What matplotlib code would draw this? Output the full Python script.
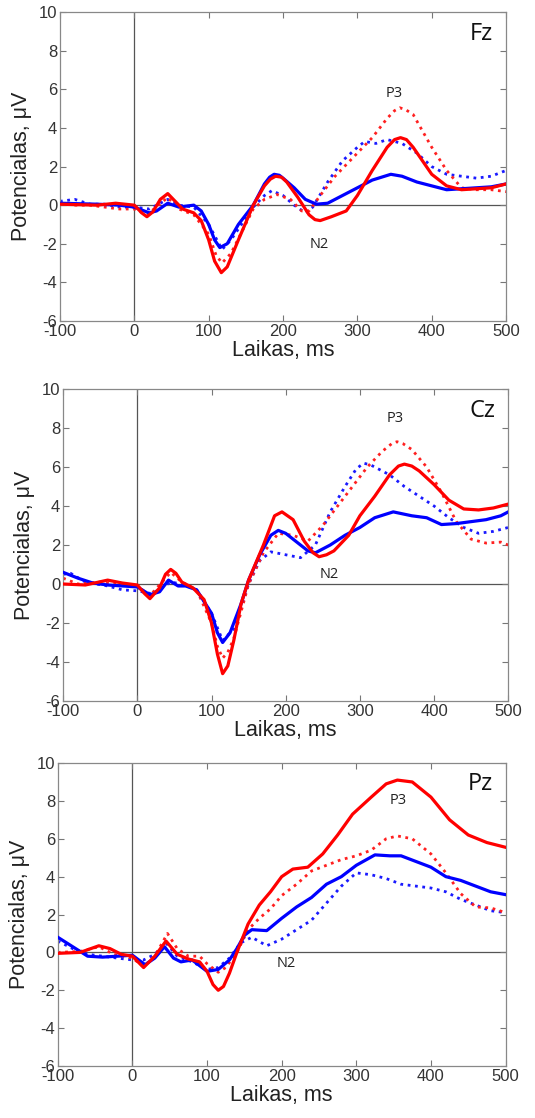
import matplotlib
matplotlib.use("Agg")
import matplotlib.pyplot as plt

plt.rcParams["axes.unicode_minus"] = False

# ---- Fz ----
fz_red_t = [-100, -50, -25, 0, 10, 17, 25, 35, 45, 55, 65, 80, 90, 100, 108, 117, 125, 140, 160, 175, 183, 190, 198, 205, 220, 235, 243, 250, 265, 285, 300, 320, 340, 350, 358, 366, 375, 400, 420, 440, 460, 480, 500]
fz_red_v = [0.05, 0.0, 0.1, 0.0, -0.4, -0.6, -0.35, 0.3, 0.6, 0.2, -0.2, -0.4, -0.8, -1.8, -2.9, -3.5, -3.2, -1.8, 0.0, 1.0, 1.35, 1.5, 1.45, 1.2, 0.4, -0.5, -0.75, -0.8, -0.6, -0.3, 0.5, 1.8, 3.0, 3.4, 3.5, 3.4, 3.0, 1.6, 1.0, 0.8, 0.85, 0.9, 1.1]
fz_reddot_t = [-100, -80, -60, -40, -20, 0, 17, 45, 60, 80, 100, 110, 118, 130, 160, 175, 192, 210, 225, 235, 250, 270, 300, 320, 340, 350, 357, 365, 375, 400, 420, 440, 460, 480, 500]
fz_reddot_v = [0.1, 0.0, 0.0, -0.1, -0.2, -0.2, -0.5, 0.4, -0.2, -0.5, -1.5, -2.6, -3.0, -2.5, -0.2, 0.3, 0.55, 0.3, -0.3, -0.3, 0.5, 1.5, 2.7, 3.5, 4.5, 4.9, 5.05, 4.95, 4.7, 3.0, 1.8, 0.9, 0.8, 0.8, 0.7]
fz_blue_t = [-100, -50, -20, 0, 20, 30, 45, 60, 80, 90, 100, 108, 115, 125, 140, 160, 175, 182, 188, 195, 200, 215, 230, 245, 260, 280, 300, 320, 345, 360, 380, 400, 420, 440, 460, 480, 500]
fz_blue_v = [0.1, 0.05, 0.0, -0.1, -0.4, -0.3, 0.1, -0.1, 0.0, -0.3, -1.0, -1.8, -2.2, -2.0, -1.0, 0.0, 1.1, 1.45, 1.6, 1.55, 1.4, 0.9, 0.3, 0.05, 0.1, 0.5, 0.9, 1.3, 1.6, 1.5, 1.2, 1.0, 0.8, 0.85, 0.9, 0.95, 1.1]
fz_bluedot_t = [-100, -80, -60, -40, -20, 0, 20, 45, 60, 80, 100, 118, 130, 160, 175, 185, 200, 215, 230, 240, 260, 280, 300, 310, 325, 340, 360, 380, 400, 420, 440, 460, 480, 500]
fz_bluedot_v = [0.2, 0.3, 0.05, 0.05, -0.1, -0.1, -0.2, 0.3, 0.0, -0.1, -1.0, -2.3, -1.8, -0.1, 0.5, 0.75, 0.5, 0.0, -0.4, -0.1, 1.2, 2.3, 3.0, 3.3, 3.2, 3.4, 3.2, 2.7, 2.0, 1.6, 1.5, 1.4, 1.5, 1.8]

# ---- Cz ----
cz_red_t = [-100, -70, -40, -20, 0, 10, 17, 30, 38, 45, 52, 60, 75, 90, 100, 108, 115, 122, 130, 140, 150, 170, 185, 195, 210, 225, 237, 245, 255, 265, 285, 300, 320, 340, 352, 360, 370, 380, 400, 420, 440, 460, 480, 500]
cz_red_v = [0.0, -0.05, 0.2, 0.05, -0.05, -0.5, -0.75, -0.2, 0.5, 0.75, 0.55, 0.1, -0.2, -0.8, -2.0, -3.6, -4.6, -4.2, -2.9, -1.0, 0.2, 2.0, 3.5, 3.7, 3.3, 2.2, 1.6, 1.4, 1.5, 1.7, 2.5, 3.5, 4.5, 5.6, 6.05, 6.15, 6.05, 5.8, 5.1, 4.3, 3.85, 3.8, 3.9, 4.1]
cz_reddot_t = [-100, -80, -50, -20, 0, 17, 45, 60, 80, 100, 108, 115, 122, 130, 150, 170, 190, 210, 230, 250, 270, 290, 310, 330, 343, 350, 358, 370, 390, 410, 430, 450, 470, 490, 500]
cz_reddot_v = [0.3, 0.0, 0.1, -0.05, -0.1, -0.6, 0.6, 0.1, -0.3, -2.0, -3.2, -3.8, -3.5, -2.8, 0.0, 1.6, 2.6, 2.5, 2.2, 3.0, 4.0, 5.0, 6.0, 6.8, 7.2, 7.3, 7.2, 6.9, 6.0, 4.7, 3.2, 2.3, 2.1, 2.15, 2.0]
cz_blue_t = [-100, -80, -60, -40, -20, 0, 17, 30, 42, 55, 65, 80, 100, 108, 115, 125, 140, 150, 165, 180, 190, 200, 210, 230, 240, 260, 280, 300, 320, 345, 370, 390, 410, 430, 450, 470, 490, 500]
cz_blue_v = [0.6, 0.3, 0.05, -0.05, -0.1, -0.15, -0.55, -0.4, 0.2, -0.1, -0.1, -0.3, -1.5, -2.5, -3.0, -2.5, -1.0, 0.2, 1.5, 2.5, 2.75, 2.6, 2.3, 1.7, 1.6, 2.0, 2.5, 2.9, 3.4, 3.7, 3.5, 3.4, 3.05, 3.1, 3.2, 3.3, 3.5, 3.7]
cz_bluedot_t = [-100, -90, -70, -40, -20, 0, 20, 45, 60, 80, 100, 115, 130, 150, 165, 180, 200, 220, 240, 260, 280, 295, 305, 315, 320, 340, 360, 380, 400, 420, 440, 460, 480, 500]
cz_bluedot_v = [0.5, 0.55, 0.1, -0.1, -0.3, -0.35, -0.5, 0.1, 0.0, -0.3, -1.5, -2.9, -2.3, 0.0, 1.2, 1.65, 1.5, 1.35, 2.0, 3.7, 5.0, 5.9, 6.2, 6.1, 6.0, 5.6, 5.0, 4.5, 4.0, 3.4, 2.9, 2.6, 2.7, 2.9]

# ---- Pz ----
pz_red_t = [-100, -70, -45, -30, -15, 0, 15, 30, 45, 60, 75, 90, 100, 108, 115, 122, 130, 140, 155, 170, 185, 200, 215, 235, 255, 275, 295, 320, 340, 355, 375, 400, 425, 450, 475, 500]
pz_red_v = [-0.05, 0.0, 0.35, 0.2, -0.1, -0.2, -0.8, -0.2, 0.6, -0.1, -0.35, -0.5, -1.0, -1.7, -2.0, -1.8, -1.1, 0.0, 1.5, 2.5, 3.2, 4.0, 4.4, 4.5, 5.2, 6.2, 7.3, 8.2, 8.9, 9.1, 9.0, 8.2, 7.0, 6.2, 5.8, 5.55]
pz_reddot_t = [-100, -70, -45, -25, 0, 15, 30, 47, 60, 75, 90, 100, 115, 125, 140, 155, 170, 185, 200, 220, 240, 260, 280, 300, 320, 340, 355, 375, 400, 420, 440, 460, 480, 500]
pz_reddot_v = [0.0, 0.05, 0.3, -0.1, -0.3, -0.75, -0.2, 1.0, 0.2, -0.2, -0.2, -0.6, -1.05, -0.8, 0.0, 1.2, 1.8, 2.3, 3.0, 3.6, 4.3, 4.6, 4.9, 5.1, 5.4, 6.0, 6.15, 6.0, 5.2, 4.2, 3.1, 2.4, 2.35, 2.1]
pz_blue_t = [-100, -80, -60, -40, -20, 0, 17, 30, 43, 55, 65, 80, 100, 115, 130, 140, 150, 160, 180, 200, 220, 240, 260, 280, 300, 325, 345, 360, 380, 400, 420, 440, 460, 480, 500]
pz_blue_v = [0.8, 0.3, -0.2, -0.25, -0.2, -0.15, -0.65, -0.3, 0.3, -0.3, -0.5, -0.4, -1.0, -0.9, -0.4, 0.2, 0.9, 1.2, 1.15, 1.8, 2.4, 2.9, 3.6, 4.0, 4.6, 5.15, 5.1, 5.1, 4.8, 4.5, 4.0, 3.8, 3.5, 3.2, 3.05]
pz_bluedot_t = [-100, -80, -60, -40, -20, 0, 15, 30, 45, 60, 80, 100, 115, 130, 145, 160, 180, 200, 220, 240, 260, 280, 300, 320, 340, 360, 380, 400, 420, 440, 460, 480, 500]
pz_bluedot_v = [0.6, 0.2, -0.1, -0.2, -0.3, -0.4, -0.4, -0.1, 0.5, -0.2, -0.5, -0.9, -0.8, -0.3, 0.5, 0.8, 0.35, 0.7, 1.2, 1.7, 2.6, 3.5, 4.2, 4.1, 3.9, 3.6, 3.5, 3.4, 3.2, 2.8, 2.5, 2.2, 2.1]

panels = [
    ("Fz", [0.112, 0.713, 0.834, 0.276],
     (fz_bluedot_t, fz_bluedot_v), (fz_reddot_t, fz_reddot_v), (fz_blue_t, fz_blue_v), (fz_red_t, fz_red_v),
     (350, 5.8), (249, -2.05)),
    ("Cz", [0.118, 0.373, 0.832, 0.279],
     (cz_bluedot_t, cz_bluedot_v), (cz_reddot_t, cz_reddot_v), (cz_blue_t, cz_blue_v), (cz_red_t, cz_red_v),
     (347, 8.5), (259, 0.5)),
    ("Pz", [0.108, 0.0465, 0.837, 0.271],
     (pz_bluedot_t, pz_bluedot_v), (pz_reddot_t, pz_reddot_v), (pz_blue_t, pz_blue_v), (pz_red_t, pz_red_v),
     (356, 8.0), (206, -0.6)),
]

fig = plt.figure(figsize=(5.35, 11.18), dpi=100)
font = "Liberation Sans"

for name, rect, bdot, rdot, bsol, rsol, p3, n2 in panels:
    ax = fig.add_axes(rect)
    ax.axhline(0, color="#555555", lw=0.9, zorder=1)
    ax.axvline(0, color="#555555", lw=0.9, zorder=1)
    ax.plot(bdot[0], bdot[1], color="#1a1aff", ls=":", lw=2.0, zorder=2)
    ax.plot(rdot[0], rdot[1], color="#ff2020", ls=":", lw=2.0, zorder=2)
    ax.plot(bsol[0], bsol[1], color="#0000ff", lw=2.3, zorder=3)
    ax.plot(rsol[0], rsol[1], color="#ff0000", lw=2.3, zorder=4)

    ax.set_xlim(-100, 500)
    ax.set_ylim(-6, 10)
    ax.set_xticks(range(-100, 501, 100))
    ax.set_yticks(range(-6, 11, 2))
    ax.tick_params(direction="in", top=True, right=True, length=4, width=0.8,
                   color="#777777", labelcolor="#333333", labelsize=12, pad=2)
    for lab in ax.get_xticklabels() + ax.get_yticklabels():
        lab.set_family(font)
    for sp in ax.spines.values():
        sp.set_color("#888888")
        sp.set_linewidth(0.9)

    ax.set_xlabel("Laikas, ms", fontsize=15.5, family=font, color="#222222", labelpad=1)
    ax.set_ylabel("Potencialas, μV", fontsize=15.5, family=font, color="#222222", labelpad=5)

    ax.text(0.971, 0.93, name, transform=ax.transAxes, ha="right", va="center",
            fontsize=17, family="Open Sans", color="#111111")
    ax.text(p3[0], p3[1], "P3", ha="center", va="center", fontsize=10.5,
            family="Open Sans", color="#222222")
    ax.text(n2[0], n2[1], "N2", ha="center", va="center", fontsize=10.5,
            family="Open Sans", color="#222222")

fig.savefig("out.png", dpi=100)
